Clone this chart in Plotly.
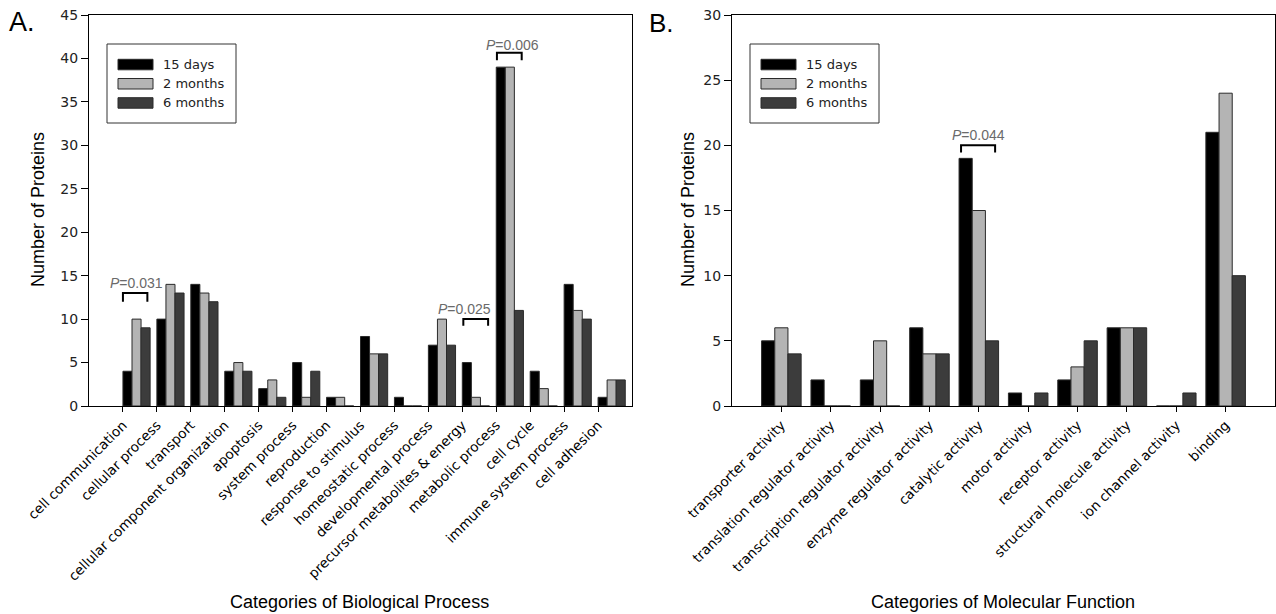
import plotly.graph_objects as go

# ---------------- data ----------------
series_names = ["15 days", "2 months", "6 months"]

bp_categories = [
    "cell communication", "cellular process", "transport",
    "cellular component organization", "apoptosis", "system process",
    "reproduction", "response to stimulus", "homeostatic process",
    "developmental process", "precursor metabolites & energy",
    "metabolic process", "cell cycle", "immune system process", "cell adhesion",
]
bp_15_days = [4, 10, 14, 4, 2, 5, 1, 8, 1, 7, 5, 39, 4, 14, 1]
bp_2_months = [10, 14, 13, 5, 3, 1, 1, 6, 0, 10, 1, 39, 2, 11, 3]
bp_6_months = [9, 13, 12, 4, 1, 4, 0, 6, 0, 7, 0, 11, 0, 10, 3]

mf_categories = [
    "transporter activity", "translation regulator activity",
    "transcription regulator activity", "enzyme regulator activity",
    "catalytic activity", "motor activity", "receptor activity",
    "structural molecule activity", "ion channel activity", "binding",
]
mf_15_days = [5, 2, 2, 6, 19, 1, 2, 6, 0, 21]
mf_2_months = [6, 0, 5, 4, 15, 0, 3, 6, 0, 24]
mf_6_months = [4, 0, 0, 4, 5, 1, 5, 6, 1, 10]

bp_yticks = [0, 5, 10, 15, 20, 25, 30, 35, 40, 45]
mf_yticks = [0, 5, 10, 15, 20, 25, 30]

# significance brackets: (panel, text, bracket x0, x1, top, leg bottom, text x, text y)
sig_marks = [
    ("A", "0.031", 1.00, 1.72, 13.0, 12.0, 1.41, 14.15),
    ("A", "0.025", 11.03, 11.76, 10.0, 9.24, 11.06, 11.2),
    ("A", "0.006", 12.02, 12.75, 40.66, 39.8, 12.49, 41.6),
    ("B", "0.044", 4.64, 5.33, 20.0, 19.45, 4.99, 20.8),
]

# ---------------- styling ----------------
W, H = 1276, 614
colors = ["#000000", "#b4b4b4", "#3c3c3c"]
edge = "#2a2a2a"
small_font = "DejaVu Sans"
big_font = "Liberation Sans, Arial"

def px_x(p):
    return p / W

def px_y(p):
    return 1 - p / H

A_left, A_right = 89, 632
B_left, B_right = 732, 1275
top_px, bot_px = 15, 406

fig = go.Figure()

bw = 0.267
bp_series = [bp_15_days, bp_2_months, bp_6_months]
mf_series = [mf_15_days, mf_2_months, mf_6_months]
bp_x = list(range(1, len(bp_categories) + 1))
mf_x = list(range(1, len(mf_categories) + 1))

for k, (name, vals) in enumerate(zip(series_names, bp_series)):
    fig.add_trace(go.Bar(
        x=bp_x, y=vals, name=name, xaxis="x", yaxis="y",
        width=bw, offset=k * bw,
        marker=dict(color=colors[k], line=dict(color=edge, width=1)),
        showlegend=False,
    ))
for k, (name, vals) in enumerate(zip(series_names, mf_series)):
    fig.add_trace(go.Bar(
        x=mf_x, y=vals, name=name, xaxis="x2", yaxis="y2",
        width=bw, offset=-1.5 * bw + k * bw,
        marker=dict(color=colors[k], line=dict(color=edge, width=1)),
        showlegend=False,
    ))

axis_common = dict(
    showline=True, linecolor="black", linewidth=1, mirror=True,
    ticks="outside", tickcolor="black", showgrid=False, zeroline=False,
    automargin=False,
)

fig.update_layout(
    width=W, height=H,
    margin=dict(l=0, r=0, t=0, b=0, pad=0),
    paper_bgcolor="white", plot_bgcolor="white",
    barmode="overlay",
    xaxis=dict(
        domain=[px_x(A_left), px_x(A_right)], anchor="y",
        range=[0, len(bp_categories) + 1],
        tickvals=bp_x, ticktext=bp_categories, tickangle=-45,
        ticklen=5, tickfont=dict(family=small_font, size=13.6, color="black"),
        **axis_common,
    ),
    yaxis=dict(
        domain=[px_y(bot_px), px_y(top_px)], anchor="x",
        range=[0, 45], tickvals=bp_yticks, ticklen=7,
        tickfont=dict(family=small_font, size=14, color="#222"),
        **axis_common,
    ),
    xaxis2=dict(
        domain=[px_x(B_left), px_x(B_right)], anchor="y2",
        range=[0, len(mf_categories) + 1],
        tickvals=mf_x, ticktext=mf_categories, tickangle=-45,
        ticklen=5, tickfont=dict(family=small_font, size=13.6, color="black"),
        **axis_common,
    ),
    yaxis2=dict(
        domain=[px_y(bot_px), px_y(top_px)], anchor="x2",
        range=[0, 30], tickvals=mf_yticks, ticklen=7,
        tickfont=dict(family=small_font, size=14, color="#222"),
        **axis_common,
    ),
)

shapes = []
annotations = []

# significance brackets
for panel, ptxt, x0, x1, ytop, ylow, tx, ty in sig_marks:
    xr, yr = ("x", "y") if panel == "A" else ("x2", "y2")
    shapes.append(dict(
        type="path", xref=xr, yref=yr,
        path=f"M {x0},{ylow} L {x0},{ytop} L {x1},{ytop} L {x1},{ylow}",
        line=dict(color="black", width=2),
    ))
    annotations.append(dict(
        xref=xr, yref=yr, x=tx, y=ty, text=f"<i>P</i>={ptxt}",
        showarrow=False, xanchor="center", yanchor="middle",
        font=dict(family=big_font, size=14, color="#6a6a6a"),
    ))

# custom legends
for left in (A_left, B_left):
    bx0 = left + 18
    shapes.append(dict(
        type="rect", xref="paper", yref="paper",
        x0=px_x(bx0), x1=px_x(bx0 + 129), y0=px_y(123), y1=px_y(44),
        line=dict(color="#333", width=1), fillcolor="white", layer="above",
    ))
    for k, name in enumerate(series_names):
        ytop = 59.3 + k * 19.2
        shapes.append(dict(
            type="rect", xref="paper", yref="paper",
            x0=px_x(bx0 + 11), x1=px_x(bx0 + 46),
            y0=px_y(ytop + 10.5), y1=px_y(ytop),
            line=dict(color=edge, width=1), fillcolor=colors[k], layer="above",
        ))
        annotations.append(dict(
            xref="paper", yref="paper", x=px_x(bx0 + 54), y=px_y(ytop + 5.2),
            text=name, showarrow=False, xanchor="left", yanchor="middle",
            font=dict(family=small_font, size=13, color="#222"),
        ))

# panel letters
annotations.append(dict(xref="paper", yref="paper", x=px_x(22), y=px_y(22),
                        text="A.", showarrow=False, xanchor="center", yanchor="middle",
                        font=dict(family=big_font, size=27, color="black")))
annotations.append(dict(xref="paper", yref="paper", x=px_x(661), y=px_y(23),
                        text="B.", showarrow=False, xanchor="center", yanchor="middle",
                        font=dict(family=big_font, size=26, color="black")))

# axis titles
title_font = dict(family=big_font, size=18, color="black")
annotations.append(dict(xref="paper", yref="paper", x=px_x(38), y=px_y(210),
                        text="Number of Proteins", textangle=-90, showarrow=False,
                        xanchor="center", yanchor="middle", font=title_font))
annotations.append(dict(xref="paper", yref="paper", x=px_x(688), y=px_y(210),
                        text="Number of Proteins", textangle=-90, showarrow=False,
                        xanchor="center", yanchor="middle", font=title_font))
annotations.append(dict(xref="paper", yref="paper", x=px_x(360), y=px_y(602),
                        text="Categories of Biological Process", showarrow=False,
                        xanchor="center", yanchor="middle", font=title_font))
annotations.append(dict(xref="paper", yref="paper", x=px_x(1003), y=px_y(602),
                        text="Categories of Molecular Function", showarrow=False,
                        xanchor="center", yanchor="middle", font=title_font))

fig.update_layout(shapes=shapes, annotations=annotations)
fig.write_html(
    "out.html",
    config={"displayModeBar": False},
    post_script="document.body.style.margin='0px';document.body.style.overflow='hidden';",
)
